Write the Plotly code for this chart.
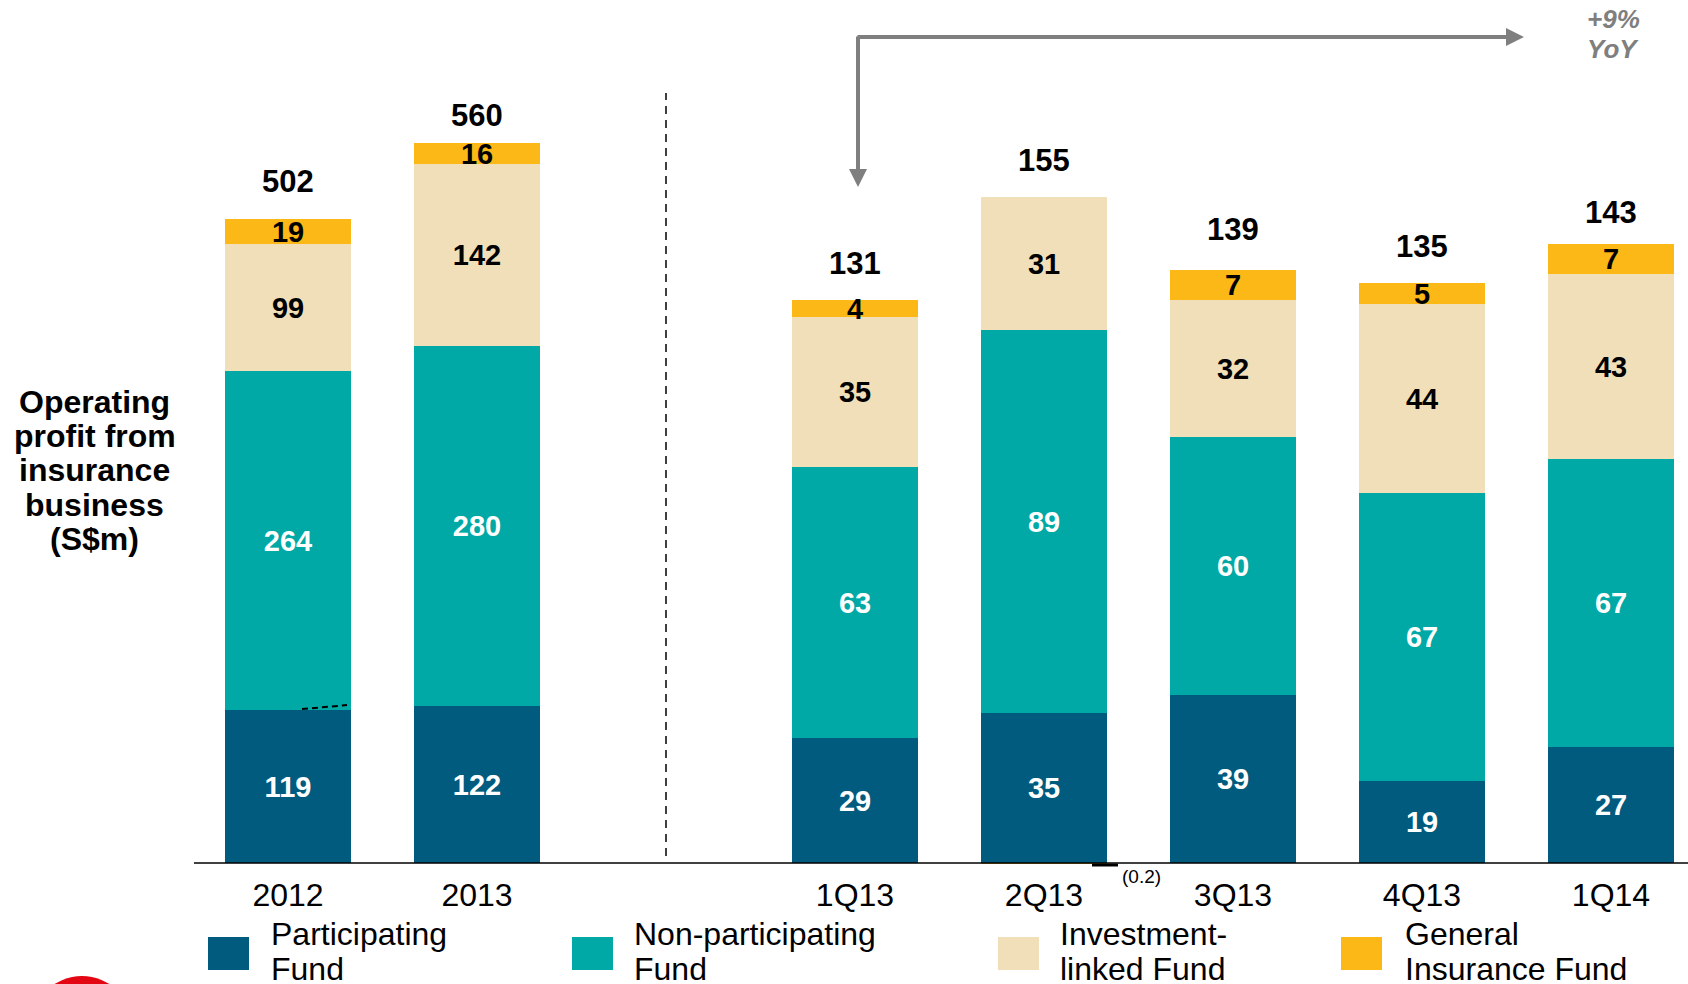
import plotly.graph_objects as go

# ---- data -------------------------------------------------------------
categories = ["2012", "2013", " ", "1Q13", "2Q13", "3Q13", "4Q13", "1Q14"]
annual_periods = ["2012", "2013"]
quarter_periods = ["1Q13", "2Q13", "3Q13", "4Q13", "1Q14"]

series_names = ["Participating Fund", "Non-participating Fund",
                "Investment-linked Fund", "General Insurance Fund"]
legend_lines = [("Participating", "Fund"), ("Non-participating", "Fund"),
                ("Investment-", "linked Fund"), ("General", "Insurance Fund")]

annual_participating = [119, 122]
annual_nonpar = [264, 280]
annual_ilp = [99, 142]
annual_general = [19, 16]
annual_totals = [502, 560]

quarter_participating = [29, 35, 39, 19, 27]
quarter_nonpar = [63, 89, 60, 67, 67]
quarter_ilp = [35, 31, 32, 44, 43]
quarter_general = [4, -0.2, 7, 5, 7]
quarter_totals = [131, 155, 139, 135, 143]

title_lines = ["Operating", "profit from", "insurance", "business", "(S$m)"]
growth_lines = ["+9%", "YoY"]

# ---- styling ----------------------------------------------------------
W, H = 1688, 984
ML, MR, MT, MB = 194, 0, 0, 114
PW, PH = W - ML - MR, H - MT - MB

colors = ["#005B7F", "#00A9A6", "#F0DFB8", "#FBB817"]
label_colors = ["white", "white", "black", "black"]
FONT = "Liberation Sans, Arial, sans-serif"
BAR_W = 0.667


def px(x):
    return (x - ML) / PW


def py(y):
    return (MT + PH - y) / PH


annual_series = [annual_participating, annual_nonpar, annual_ilp, annual_general]
quarter_series = [quarter_participating, quarter_nonpar, quarter_ilp, quarter_general]

fig = go.Figure()

for i, name in enumerate(series_names):
    for periods, vals, axis in ((annual_periods, annual_series[i], "y"),
                                (quarter_periods, quarter_series[i], "y2")):
        fig.add_trace(go.Bar(
            x=periods, y=vals, yaxis=axis, name=name, width=BAR_W,
            marker=dict(color=colors[i], line=dict(width=0)),
            text=[f"{v:g}" if v > 0 else "" for v in vals],
            textposition="inside", insidetextanchor="middle",
            textangle=0, constraintext="none",
            textfont=dict(family=FONT, size=29, color=label_colors[i], weight="bold"),
            showlegend=False, hoverinfo="skip",
        ))

annotations = []
# totals above the stacks (the tallest annual bar keeps its label a bit closer)
tallest = max(annual_totals)
for periods, totals, axis in ((annual_periods, annual_totals, "y"),
                              (quarter_periods, quarter_totals, "y2")):
    for p, t in zip(periods, totals):
        lift = 28 if (axis == "y" and t == tallest) else 36
        annotations.append(dict(
            x=categories.index(p), y=t, xref="x", yref=axis, text=str(t),
            showarrow=False, yanchor="middle", yshift=lift,
            font=dict(family=FONT, size=31, color="black", weight="bold")))

# small negative general-insurance value for 2Q13
neg_idx = [i for i, v in enumerate(quarter_general) if v < 0][0]
neg_cat = categories.index(quarter_periods[neg_idx])
annotations.append(dict(
    x=neg_cat, y=0, xref="x", yref="y2",
    text=f"({abs(quarter_general[neg_idx]):g})", showarrow=False,
    xanchor="left", yanchor="middle", xshift=76, yshift=-13,
    font=dict(family=FONT, size=19, color="black")))

# axis title, drawn line by line
for k, line in enumerate(title_lines):
    annotations.append(dict(
        x=px(95), y=py(401.5 + 34.4 * k), xref="paper", yref="paper",
        text=line, showarrow=False, xanchor="center", yanchor="middle",
        font=dict(family=FONT, size=32, color="black", weight="bold")))

# growth callout arrows and text
GRAY = "#7F7F7F"
annotations.append(dict(
    x=px(858), y=py(187), xref="paper", yref="paper", text="",
    showarrow=True, ax=0, ay=-152, arrowhead=2, arrowsize=0.9,
    arrowwidth=4, arrowcolor=GRAY))
annotations.append(dict(
    x=px(1524), y=py(37), xref="paper", yref="paper", text="",
    showarrow=True, ax=-668, ay=0, arrowhead=2, arrowsize=0.9,
    arrowwidth=4, arrowcolor=GRAY))
for k, line in enumerate(growth_lines):
    annotations.append(dict(
        x=px(1613), y=py(19 + 30 * k), xref="paper", yref="paper",
        text=line, showarrow=False, xanchor="center", yanchor="middle",
        font=dict(family=FONT, size=26, color=GRAY, weight="bold", style="italic")))

shapes = []
# baseline
shapes.append(dict(type="line", xref="paper", yref="y2", x0=0, x1=1, y0=0, y1=0,
                   line=dict(color="black", width=1.5)))
# divider between annual and quarterly views
gap = categories.index(" ")
shapes.append(dict(type="line", xref="x", yref="paper", x0=gap, x1=gap,
                   y0=py(856), y1=py(93),
                   line=dict(color="black", width=1.5, dash="8px,6px")))
# leader for the negative value
shapes.append(dict(type="line", xref="x", yref="y2", xsizemode="pixel",
                   ysizemode="pixel", xanchor=neg_cat, yanchor=0,
                   x0=48, x1=74, y0=-2, y1=-2,
                   line=dict(color="black", width=3)))
# small dashed tick on the 2012 participating segment
shapes.append(dict(type="line", xref="x", yref="y", xsizemode="pixel",
                   ysizemode="pixel", xanchor=categories.index("2012"),
                   yanchor=annual_participating[0],
                   x0=14, x1=59, y0=1, y1=5,
                   line=dict(color="black", width=2, dash="6px,4px")))

# legend swatches and labels
legend_x = [(208, 269), (572, 632), (998, 1058), (1341, 1403)]
for (sx, tx), col, lines in zip(legend_x, colors, legend_lines):
    shapes.append(dict(type="rect", xref="paper", yref="paper",
                       x0=px(sx), x1=px(sx + 41), y0=py(970), y1=py(937),
                       fillcolor=col, line=dict(width=0)))
    for k, line in enumerate(lines):
        annotations.append(dict(
            x=px(tx), y=py(934 + 35 * k), xref="paper", yref="paper",
            text=line, showarrow=False, xanchor="left", yanchor="middle",
            font=dict(family=FONT, size=32, color="black")))

# company logo edge
shapes.append(dict(type="circle", xref="paper", yref="paper",
                   x0=px(31), x1=px(133), y0=py(1078), y1=py(976),
                   fillcolor="#E30613", line=dict(width=0)))

ANNUAL_PX = 1.285   # pixels per S$m, annual view
QUARTER_PX = 4.30   # pixels per S$m, quarterly view
below = PH - 863    # pixels of plot area below the baseline

fig.update_layout(
    width=W, height=H,
    margin=dict(l=ML, r=MR, t=MT, b=MB, pad=0),
    paper_bgcolor="white", plot_bgcolor="white",
    barmode="relative", bargap=0,
    font=dict(family=FONT, color="black"),
    xaxis=dict(type="category", categoryorder="array", categoryarray=categories,
               range=[(ML - 288) / 189, (W - 288) / 189],
               tickvals=[c for c in categories if c.strip()],
               ticktext=[c for c in categories if c.strip()],
               tickfont=dict(family=FONT, size=32, color="black"),
               ticks="", showline=False, showgrid=False, zeroline=False,
               ticklabelstandoff=3),
    yaxis=dict(range=[-below / ANNUAL_PX, 863 / ANNUAL_PX], visible=False,
               showgrid=False, zeroline=False),
    yaxis2=dict(range=[-below / QUARTER_PX, 863 / QUARTER_PX], overlaying="y",
                visible=False, showgrid=False, zeroline=False),
    annotations=annotations,
    shapes=shapes,
)

fig.write_html("out.html")
